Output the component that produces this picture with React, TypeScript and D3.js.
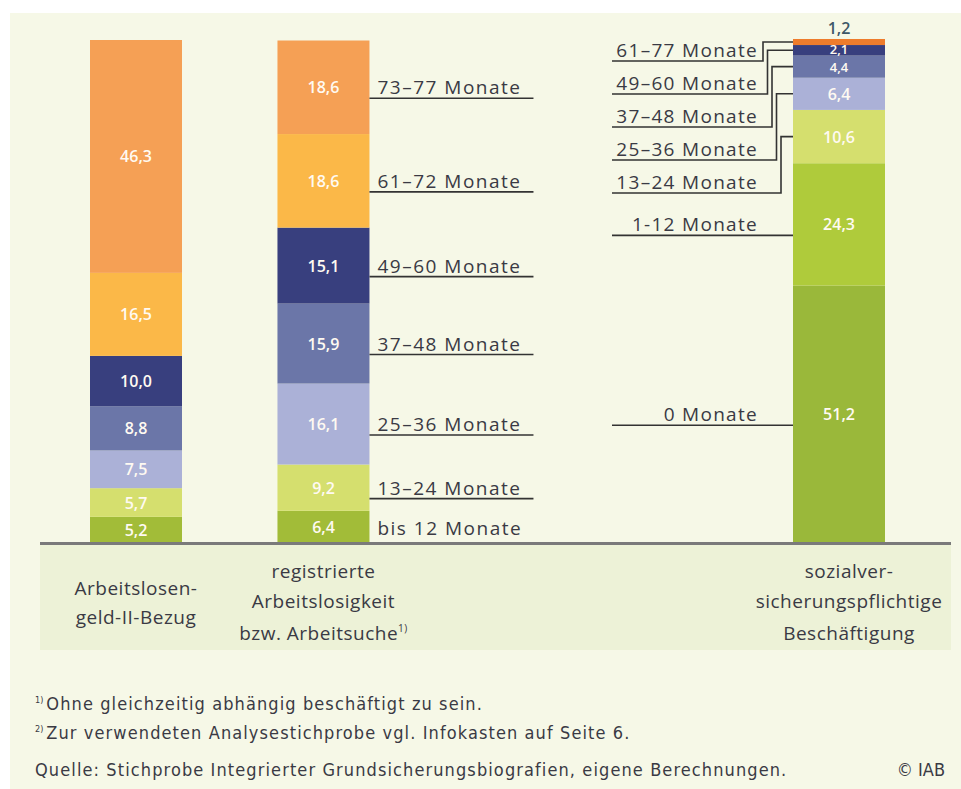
import React, { useEffect, useRef } from 'react';
import * as d3 from 'd3';

// Balken (Kategorien)
const barKeys = ['alg2', 'arbeitslos', 'besch'];
const categoryLines = [
    ['Arbeitslosen-', 'geld-II-Bezug'],
    ['registrierte', 'Arbeitslosigkeit', 'bzw. Arbeitsuche'],
    ['sozialver-', 'sicherungspflichtige', 'Beschäftigung'],
];

// Anteile in Prozent, von unten nach oben
const alg2Values = [5.2, 5.7, 7.5, 8.8, 10.0, 16.5, 46.3];
const arbeitslosValues = [6.4, 9.2, 16.1, 15.9, 15.1, 18.6, 18.6];
const beschValues = [51.2, 24.3, 10.6, 6.4, 4.4, 2.1, 1.2];

const arbeitslosLabels = ['bis 12 Monate', '13–24 Monate', '25–36 Monate', '37–48 Monate', '49–60 Monate', '61–72 Monate', '73–77 Monate'];
const beschLabels = ['0 Monate', '1-12 Monate', '13–24 Monate', '25–36 Monate', '37–48 Monate', '49–60 Monate', '61–77 Monate'];

const durationColors = ['#a2bc38', '#d5df6e', '#abb1d7', '#6b76a8', '#383f7e', '#fbb848', '#f5a055'];
const beschColors = ['#9ab83a', '#afcb3b', '#d5df6e', '#abb1d7', '#6b76a8', '#383f7e', '#ee7c2c'];

const footnotes = [
    { sup: '1)', text: 'Ohne gleichzeitig abhängig beschäftigt zu sein.' },
    { sup: '2)', text: 'Zur verwendeten Analysestichprobe vgl. Infokasten auf Seite 6.' },
];
const sourceText = 'Quelle: Stichprobe Integrierter Grundsicherungsbiografien, eigene Berechnungen.';
const copyright = '© IAB';

const fmt = (v: number) => d3.format('.1f')(v).replace('.', ',');

const App = () => {
    const svgRef = useRef<SVGSVGElement>(null);

    useEffect(() => {
        const svg = d3.select(svgRef.current);
        const width = 961;
        const height = 789;
        const font = "'Open Sans', sans-serif";
        const textColor = '#3a3a44';

        svg.selectAll('*').remove();

        // Hintergrund
        svg.append('rect').attr('width', width).attr('height', height).attr('fill', '#fff');
        svg.append('rect').attr('x', 10).attr('y', 13).attr('width', width - 10).attr('height', height - 13).attr('fill', '#f6f8e7');
        svg.append('rect').attr('x', 40).attr('y', 545).attr('width', 911).attr('height', 105).attr('fill', '#edf2d7');

        // Skalen
        const y = d3.scaleLinear().domain([0, 100]).range([543, 40]);
        const col = d3.scaleLinear().domain([0, 15]).range([136, 839]);
        const colIndex = [0, 4, 15];
        const barW = 92;
        const cx = (i: number) => col(colIndex[i]);

        const series = [alg2Values, arbeitslosValues, beschValues];
        const colors = [durationColors, durationColors, beschColors];

        // Gestapelte Segmente mit d3.stack
        const stacks = series.map(vals => {
            const keys = vals.map((_, i) => 's' + i);
            const row: any = {};
            vals.forEach((v, i) => { row['s' + i] = v; });
            return d3.stack().keys(keys)([row]).map(s => ({ y0: s[0][0], y1: s[0][1] }));
        });

        stacks.forEach((segs, bi) => {
            const g = svg.append('g').attr('class', 'bar-' + barKeys[bi]);
            g.selectAll('rect')
                .data(segs)
                .enter()
                .append('rect')
                .attr('x', cx(bi) - barW / 2)
                .attr('width', barW)
                .attr('y', d => y(d.y1))
                .attr('height', d => y(d.y0) - y(d.y1))
                .attr('fill', (d, i) => colors[bi][i]);

            g.selectAll('text')
                .data(segs)
                .enter()
                .append('text')
                .attr('x', cx(bi))
                .attr('y', (d, i) => {
                    const v = series[bi][i];
                    const mid = (y(d.y0) + y(d.y1)) / 2;
                    if (v < 2) return y(d.y1) - 5;
                    if (v < 3) return mid + 3.5;
                    if (v < 5) return mid + 5.5;
                    return mid + 6;
                })
                .attr('text-anchor', 'middle')
                .attr('font-family', font)
                .attr('font-size', (d, i) => (series[bi][i] < 5 && series[bi][i] >= 2 ? '13px' : '16px'))
                .attr('font-weight', 600)
                .attr('fill', (d, i) => (series[bi][i] < 2 ? '#3e5868' : '#fffaf2'))
                .text((d, i) => fmt(series[bi][i]));
        });

        // Achse
        svg.append('line')
            .attr('x1', 40).attr('x2', 951)
            .attr('y1', y(0) + 0.5).attr('y2', y(0) + 0.5)
            .attr('stroke', '#7a7a7a').attr('stroke-width', 3);

        // Beschriftung mittlerer Balken
        const midSegs = stacks[1];
        const xr = cx(1) + barW / 2;
        const midG = svg.append('g');
        midSegs.forEach((d, i) => {
            const mid = (y(d.y0) + y(d.y1)) / 2;
            const under = mid + 11;
            midG.append('text')
                .attr('x', xr + 8)
                .attr('y', i === 0 ? mid + 8 : under - 4)
                .attr('font-family', font)
                .attr('font-size', '19px')
                .attr('letter-spacing', '1.5px')
                .attr('fill', textColor)
                .text(arbeitslosLabels[i]);
            if (i > 0) {
                midG.append('line')
                    .attr('x1', xr).attr('x2', xr + 164)
                    .attr('y1', under).attr('y2', under)
                    .attr('stroke', '#333').attr('stroke-width', 1.6);
            }
        });

        // Beschriftung rechter Balken mit Verbindungslinien
        const rightSegs = stacks[2];
        const xl = cx(2) - barW / 2;
        const labelRight = 758;
        const lineStart = 612;
        const rightG = svg.append('g');
        rightSegs.forEach((d, i) => {
            const v = beschValues[i];
            const mid = (y(d.y0) + y(d.y1)) / 2;
            let under: number;
            let path: string;
            if (v >= 20) {
                under = mid + 11;
                path = `M${lineStart},${under}H${xl}`;
            } else {
                const rank = beschValues.length - 1 - i; // 0 = oberstes
                under = y(100) + 21 + rank * 33;
                const elbow = labelRight + 5 + rank * 4.5;
                path = `M${lineStart},${under}H${elbow}V${mid}H${xl}`;
            }
            rightG.append('path')
                .attr('d', path)
                .attr('fill', 'none')
                .attr('stroke', '#333')
                .attr('stroke-width', 1.6);
            rightG.append('text')
                .attr('x', labelRight)
                .attr('y', under - 4)
                .attr('text-anchor', 'end')
                .attr('font-family', font)
                .attr('font-size', '19px')
                .attr('letter-spacing', '1.3px')
                .attr('fill', textColor)
                .text(beschLabels[i]);
        });

        // Kategorienamen
        const catOffset = [0, 0, 10];
        const baseY = [[595, 624], [578, 608, 640], [578, 608, 640]];
        categoryLines.forEach((lines, bi) => {
            lines.forEach((line, li) => {
                const t = svg.append('text')
                    .attr('x', cx(bi) + catOffset[bi])
                    .attr('y', baseY[bi][li])
                    .attr('text-anchor', 'middle')
                    .attr('font-family', font)
                    .attr('font-size', '19px')
                    .attr('letter-spacing', '0.5px')
                    .attr('fill', textColor)
                    .text(line);
                if (bi === 1 && li === 2) {
                    t.append('tspan')
                        .attr('font-size', '10px')
                        .attr('dy', -8)
                        .text('1)');
                }
            });
        });

        // Fußnoten und Quelle
        const noteFont = "'DejaVu Sans Condensed', 'Liberation Sans Narrow', sans-serif";
        const noteSize = '18px';
        const noteSpacing = '1.1px';
        footnotes.forEach((f, i) => {
            const t = svg.append('text')
                .attr('x', 35)
                .attr('y', 710 + i * 29)
                .attr('font-family', noteFont)
                .attr('font-size', noteSize)
                .attr('letter-spacing', noteSpacing)
                .attr('fill', textColor);
            t.append('tspan').attr('font-size', '9px').attr('letter-spacing', 0).attr('dy', -7).text(f.sup);
            t.append('tspan').attr('dy', 7).attr('dx', 3).text(f.text);
        });
        svg.append('text')
            .attr('x', 35).attr('y', 776)
            .attr('font-family', noteFont)
            .attr('font-size', noteSize)
            .attr('letter-spacing', noteSpacing)
            .attr('fill', textColor)
            .text(sourceText);
        svg.append('text')
            .attr('x', 945).attr('y', 776)
            .attr('text-anchor', 'end')
            .attr('font-family', noteFont)
            .attr('font-size', noteSize)
            .attr('fill', textColor)
            .text(copyright);
    }, []);

    return (
        <svg
            ref={svgRef}
            width={961}
            height={789}
            style={{ position: 'absolute', left: 0, top: 0, display: 'block' }}
        ></svg>
    );
};

export default App;
